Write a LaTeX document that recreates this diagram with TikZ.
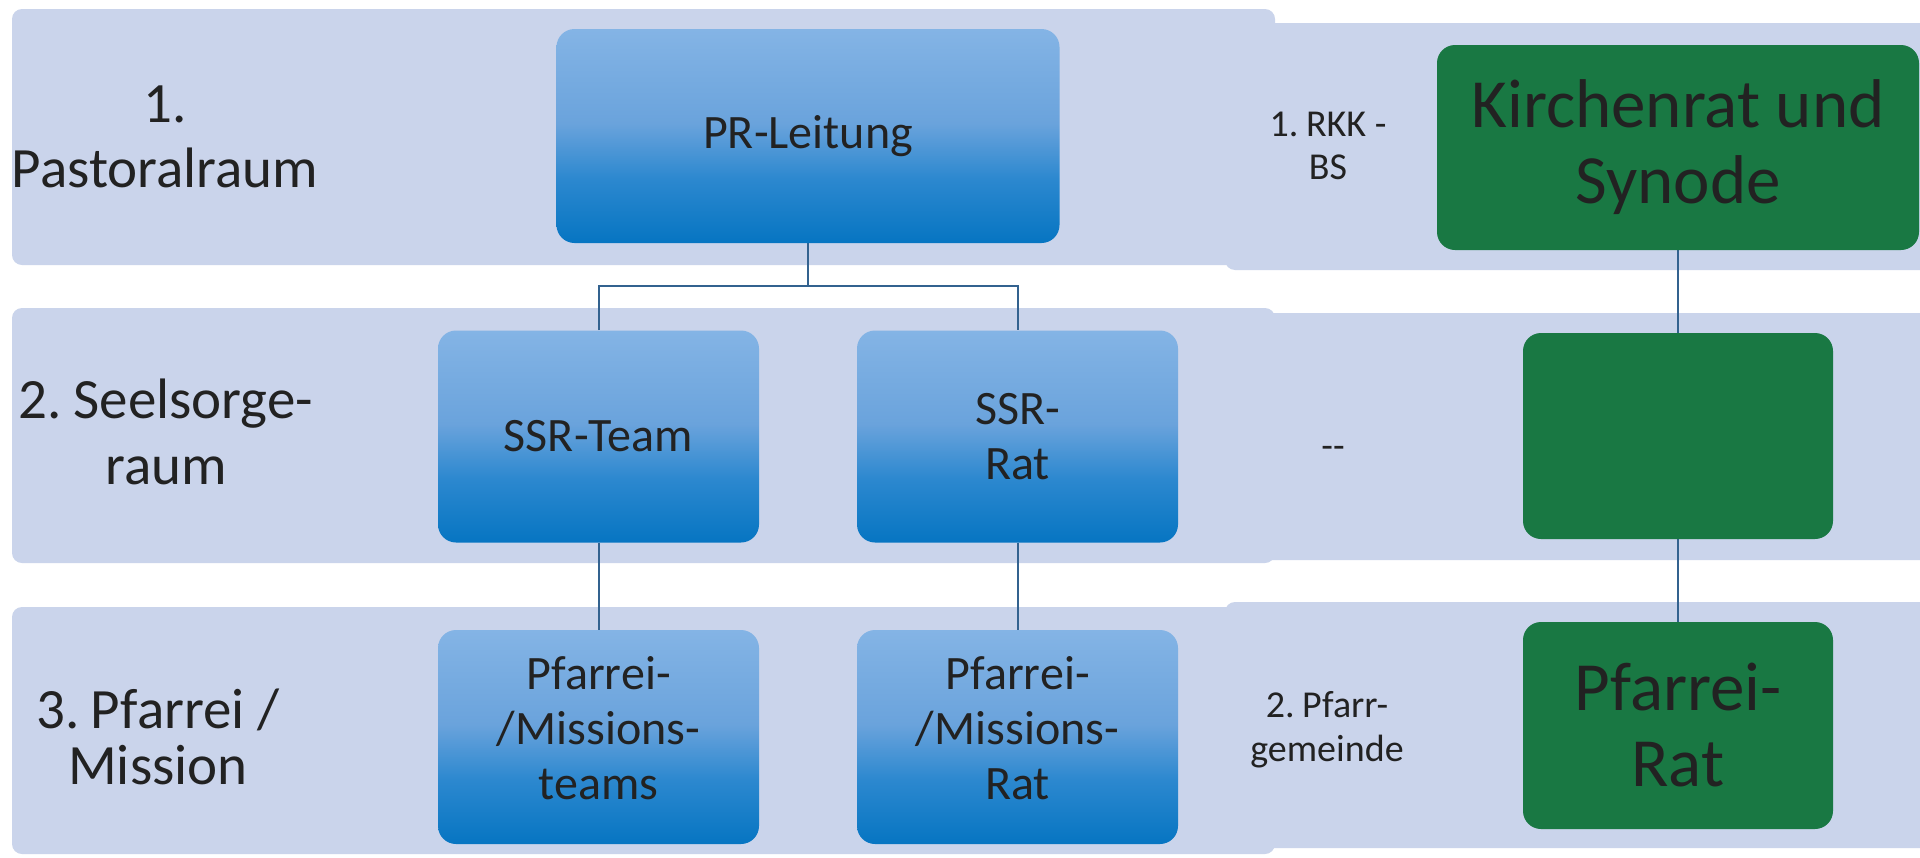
\documentclass[tikz,border=0pt]{standalone}
\usepackage{fontspec}
\setmainfont{Carlito}
\definecolor{bandfill}{HTML}{CAD4EB}
\definecolor{blight}{HTML}{84B4E5}
\definecolor{bmid}{HTML}{6AA3DC}
\definecolor{bmidd}{HTML}{2C88CF}
\definecolor{bdark}{HTML}{0675C2}
\definecolor{gfill}{HTML}{197843}
\definecolor{ink}{HTML}{222222}
\definecolor{wirecol}{HTML}{33628F}
% light top, darker lower half (path box maps to 25bp..75bp)
\pgfdeclareverticalshading{bluefade}{100bp}{color(0bp)=(bdark); color(25bp)=(bdark); color(40bp)=(bmidd); color(53bp)=(bmid); color(75bp)=(blight); color(100bp)=(blight)}
\pgfdeclarelayer{bands}
\pgfdeclarelayer{wires}
\pgfsetlayers{bands,wires,main}
% narrow gap after a list number
\newcommand{\numgap}{\hspace{0.2em}}
\begin{document}
\begin{tikzpicture}[x=1pt,y=-1pt,
  band/.style={fill=bandfill, rounded corners=10pt},
  lvl/.style={align=center, text=ink, inner sep=0pt, font=\fontsize{57}{65}\selectfont},
  side/.style={align=center, text=ink, inner sep=0pt, font=\fontsize{38}{43}\selectfont},
  bluebox/.style={shade, shading=bluefade, rounded corners=18pt, inner sep=0pt, align=center, text=ink,
    minimum width=321pt, minimum height=212pt, font=\fontsize{48}{55}\selectfont},
  greenbox/.style={fill=gfill, rounded corners=18pt, inner sep=0pt, align=center, text=ink,
    font=\fontsize{69}{76}\selectfont},
  wire/.style={draw=wirecol, line width=2pt}]

\useasboundingbox (0,0) rectangle (1920,857);

% organisation units
\node[bluebox, minimum width=503pt, minimum height=214pt] (pr) at (808,136) {PR-Leitung};
\node[bluebox] (ssrt) at (598.5,436.5) {SSR-Team};
\node[bluebox] (ssrr) at (1017.5,436.5) {SSR-\\Rat};
\node[bluebox, minimum height=214pt] (pmt) at (598.5,737) {Pfarrei-\\/Missions-\\teams\rule[-18pt]{0pt}{0pt}};
\node[bluebox, minimum height=214pt] (pmr) at (1017.5,737) {Pfarrei-\\/Missions-\\Rat\rule[-18pt]{0pt}{0pt}};
\node[greenbox, minimum width=482pt, minimum height=205pt] (kr) at (1678,147.5) {Kirchenrat und\\Synode};
\node[greenbox, minimum width=310pt, minimum height=206pt] (gm) at (1678,436) {};
\node[greenbox, minimum width=310pt, minimum height=207pt] (prat) at (1678,725.5) {Pfarrei-\\Rat};

% level names
\node[lvl] (l1) at (165,136.5) {1.\\Pastoralraum};
\node[lvl, font=\fontsize{57}{66}\selectfont] (l2) at (166,432) {2.\numgap Seelsorge-\\raum};
\node[lvl, font=\fontsize{57}{56}\selectfont] (l3) at (158,737) {3.\numgap Pfarrei /\\Mission};
\node[side] (r1) at (1328,146) {1.\numgap RKK -\\BS};
\node[side] (r2) at (1333,452) {\mbox{-}\mbox{-}};
\node[side, font=\fontsize{38}{44}\selectfont] (r3) at (1327,730) {2.\numgap Pfarr-\\gemeinde};

% connectors
\begin{pgfonlayer}{wires}
\coordinate (hub) at (808,286);
\draw[wire] (pr.south) -- (hub);
\draw[wire] (ssrt.north) |- (hub) -| (ssrr.north);
\draw[wire] (ssrt.south) -- (pmt.north);
\draw[wire] (ssrr.south) -- (pmr.north);
\draw[wire] (kr.south) -- (gm.north);
\draw[wire] (gm.south) -- (prat.north);
\end{pgfonlayer}

% level bands
\begin{pgfonlayer}{bands}
\fill[white] (0,0) rectangle (1920,857);
\begin{scope}
\clip (0,0) rectangle (1920,857);
\fill[band] (12,9) rectangle (1275,265);
\fill[band] (12,308) rectangle (1275,563);
\fill[band] (12,607) rectangle (1275,854);
\fill[band] (1225,23) rectangle (1950,270);
\fill[band] (1225,313) rectangle (1950,560);
\fill[band] (1225,602) rectangle (1950,848);
\end{scope}
\end{pgfonlayer}
\end{tikzpicture}
\end{document}
